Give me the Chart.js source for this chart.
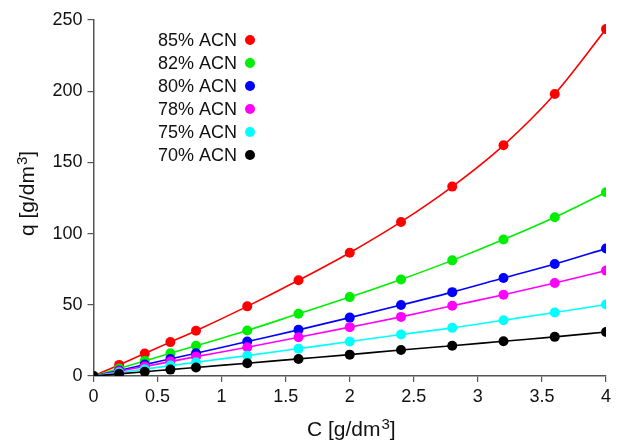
<!DOCTYPE html>
<html>
<head>
<meta charset="utf-8">
<script src="https://cdn.jsdelivr.net/npm/chart.js@4.4.1/dist/chart.umd.min.js"></script>
<style>
  html, body { margin: 0; padding: 0; background: #fff; }
  #wrap { width: 617px; height: 441px; position: relative; }
</style>
</head>
<body>
<div id="wrap"><canvas id="chart"></canvas></div>
<script>
// concentration C [g/dm3]
var conc = [0, 0.2, 0.4, 0.6, 0.8, 1.2, 1.6, 2, 2.4, 2.8, 3.2, 3.6, 4];
// q [g/dm3] for each ACN content
var acn85 = [0, 7.8, 15.8, 23.8, 31.8, 48.9, 67.2, 86.6, 108.2, 133, 162, 198, 243.6];
var acn82 = [0, 5.3, 10.6, 16, 21.2, 32, 43.7, 55.4, 67.8, 81.2, 95.8, 111.5, 129];
var acn80 = [0, 3.9, 8, 12, 16, 24.2, 32.4, 41, 49.8, 58.9, 68.8, 78.6, 89.5];
var acn78 = [0, 3.3, 6.7, 10.1, 13.6, 20.2, 27.2, 34.3, 41.5, 49.3, 57, 65.3, 74];
var acn75 = [0, 2.4, 4.8, 7.3, 9.7, 14.3, 19.2, 24.2, 29.1, 33.8, 39.2, 44.6, 50.2];
var acn70 = [0, 1.5, 3, 4.5, 6, 9, 12, 15, 18.3, 21.2, 24.4, 27.5, 30.9];

var seriesNames = ['85% ACN', '82% ACN', '80% ACN', '78% ACN', '75% ACN', '70% ACN'];
var seriesData = [acn85, acn82, acn80, acn78, acn75, acn70];
var seriesColors = ['#ff0000', '#00ee00', '#0000ff', '#ff00ff', '#00ffff', '#000000'];

var xTicks = [0, 0.5, 1, 1.5, 2, 2.5, 3, 3.5, 4];
var yTicks = [0, 50, 100, 150, 200, 250];

var FONT = '"Liberation Sans", Arial, Helvetica, sans-serif';
var AXIS = '#555555';

function toPoints(ys) {
  var pts = [];
  for (var i = 0; i < conc.length; i++) {
    pts.push({ x: conc[i], y: ys[i] });
  }
  return pts;
}

var datasets = [];
for (var i = 0; i < seriesNames.length; i++) {
  datasets.push({
    label: seriesNames[i],
    data: toPoints(seriesData[i]),
    borderColor: seriesColors[i],
    backgroundColor: seriesColors[i],
    borderWidth: 1.6,
    pointRadius: 5,
    pointBorderWidth: 0,
    cubicInterpolationMode: 'monotone',
    order: seriesNames.length - i
  });
}

// draws the legend (text then dot) and axis titles with superscripts
var extras = {
  id: 'extras',
  afterDraw: function (chart) {
    var ctx = chart.ctx;
    ctx.save();
    ctx.font = '18px ' + FONT;
    ctx.textBaseline = 'middle';
    ctx.textAlign = 'right';
    for (var i = 0; i < seriesNames.length; i++) {
      var y = 40 + i * 23;
      ctx.fillStyle = '#111';
      ctx.fillText(seriesNames[i], 237, y + 1);
      ctx.beginPath();
      ctx.arc(250, y, 5, 0, Math.PI * 2);
      ctx.fillStyle = seriesColors[i];
      ctx.fill();
    }

    // x title
    ctx.fillStyle = '#111';
    ctx.textBaseline = 'alphabetic';
    ctx.textAlign = 'left';
    drawSup(ctx, 'C [g/dm', '3', ']', 307, 436);

    // y title, rotated
    ctx.translate(34, 194);
    ctx.rotate(-Math.PI / 2);
    var w = measureSup(ctx, 'q [g/dm', '3', ']');
    drawSup(ctx, 'q [g/dm', '3', ']', -w / 2, 0);
    ctx.restore();
  }
};

function measureSup(ctx, a, s, b) {
  ctx.font = '21px ' + FONT;
  var w = ctx.measureText(a).width + ctx.measureText(b).width;
  ctx.font = '15px ' + FONT;
  w += ctx.measureText(s).width;
  return w;
}

function drawSup(ctx, a, s, b, x, y) {
  ctx.font = '21px ' + FONT;
  ctx.fillText(a, x, y);
  x += ctx.measureText(a).width;
  ctx.font = '15px ' + FONT;
  ctx.fillText(s, x + 1, y - 7);
  x += ctx.measureText(s).width + 1;
  ctx.font = '21px ' + FONT;
  ctx.fillText(b, x, y);
}

new Chart(document.getElementById('chart'), {
  type: 'line',
  data: { datasets: datasets },
  options: {
    responsive: true,
    maintainAspectRatio: false,
    animation: false,
    layout: { padding: { left: 0, right: 11, top: 20, bottom: 0 } },
    plugins: {
      legend: { display: false },
      tooltip: { enabled: false }
    },
    scales: {
      x: {
        type: 'linear',
        min: 0,
        max: 4,
        afterBuildTicks: function (scale) {
          scale.ticks = xTicks.map(function (v) { return { value: v }; });
        },
        afterFit: function (scale) {
          scale.height = 65;
          scale.paddingLeft = 0;
          scale.paddingRight = 0;
        },
        grid: { drawOnChartArea: false, drawTicks: true, tickLength: 6, color: AXIS, lineWidth: 1.2 },
        border: { color: AXIS, width: 1.5 },
        ticks: {
          color: '#111', padding: 4, maxRotation: 0, font: { size: 18, family: FONT },
          callback: function (v) { return String(v); }
        }
      },
      y: {
        min: 0,
        max: 250,
        afterBuildTicks: function (scale) {
          scale.ticks = yTicks.map(function (v) { return { value: v }; });
        },
        afterFit: function (scale) { scale.width = 93.5; },
        grid: { drawOnChartArea: false, drawTicks: true, tickLength: 6, color: AXIS, lineWidth: 1.2 },
        border: { color: AXIS, width: 1.5 },
        ticks: { color: '#111', padding: 5, font: { size: 18, family: FONT } }
      }
    }
  },
  plugins: [extras]
});
</script>
</body>
</html>
